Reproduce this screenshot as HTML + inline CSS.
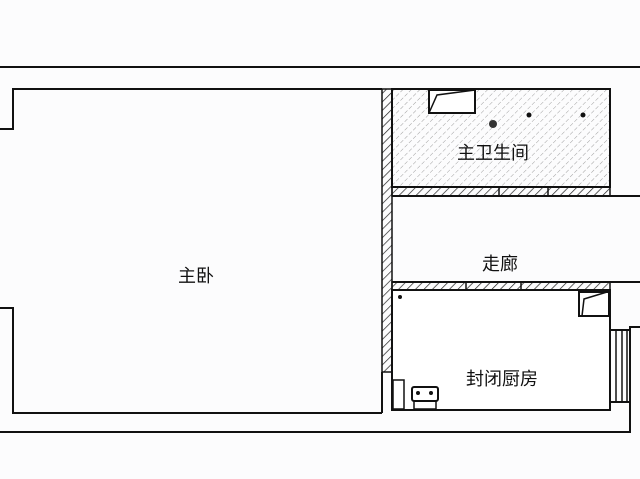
<!DOCTYPE html>
<html><head><meta charset="utf-8"><style>
html,body{margin:0;padding:0;background:#fcfcfd;}
svg{display:block}
text{font-family:"Liberation Sans","Noto Sans CJK SC",sans-serif;font-size:18px;fill:#111;text-anchor:middle}
</style></head><body>
<svg width="640" height="479" viewBox="0 0 640 479">
<defs>
<pattern id="h" width="6" height="6" patternUnits="userSpaceOnUse" patternTransform="rotate(45)">
<line x1="0" y1="0" x2="0" y2="6" stroke="#222" stroke-width="1.4"/></pattern>
<pattern id="hl" width="6" height="6" patternUnits="userSpaceOnUse" patternTransform="rotate(45)">
<line x1="0" y1="0" x2="0" y2="6" stroke="#777" stroke-width="0.7" stroke-dasharray="4 2"/></pattern>
</defs>
<g fill="none" stroke="#111" stroke-width="2">
<line x1="0" y1="67" x2="640" y2="67"/>
<polyline points="0,129 13,129 13,89 382,89"/>
<polyline points="0,308 13,308 13,413 382,413"/>
<polyline points="0,432 630,432 630,327 640,327"/>
</g>
<rect x="392" y="89" width="218" height="98" fill="url(#hl)" stroke="#111" stroke-width="2"/>
<rect x="382" y="89" width="10" height="283" fill="url(#h)" stroke="#111" stroke-width="1.5"/>
<rect x="392" y="187" width="218" height="9" fill="url(#h)" stroke="#111" stroke-width="1.5"/>
<rect x="392" y="282" width="218" height="8" fill="url(#h)" stroke="#111" stroke-width="1.5"/>
<line x1="499" y1="187" x2="499" y2="196" stroke="#111" stroke-width="1.5"/>
<line x1="548" y1="187" x2="548" y2="196" stroke="#111" stroke-width="1.5"/>
<line x1="466" y1="282" x2="466" y2="290" stroke="#111" stroke-width="1.5"/>
<line x1="521" y1="282" x2="521" y2="290" stroke="#111" stroke-width="1.5"/>
<g fill="none" stroke="#111" stroke-width="2">
<line x1="392" y1="196" x2="640" y2="196"/>
<line x1="392" y1="282" x2="640" y2="282"/>
<line x1="382" y1="372" x2="382" y2="413"/>
<rect x="392" y="290" width="218" height="120" fill="#fff"/>
<line x1="610" y1="330" x2="630" y2="330"/>
<line x1="610" y1="402" x2="630" y2="402"/>
<line x1="616" y1="330" x2="616" y2="402" stroke-width="1.5"/>
<line x1="622" y1="330" x2="622" y2="402" stroke-width="1.5"/>
<line x1="627" y1="330" x2="627" y2="402" stroke-width="1.5"/>
</g>
<polygon points="429,90 475,90 475,113 429,113" fill="#fff" stroke="#111" stroke-width="2"/>
<polyline points="429,113 437,95 475,90" fill="none" stroke="#111" stroke-width="1.5"/>
<circle cx="493" cy="124" r="4" fill="#333"/>
<circle cx="529" cy="115" r="2.5" fill="#111"/>
<circle cx="583" cy="115" r="2.5" fill="#111"/>
<rect x="579" y="292" width="30" height="24" fill="#fff" stroke="#111" stroke-width="2"/>
<polyline points="582,316 584,299 607,292" fill="none" stroke="#111" stroke-width="1.5"/>
<circle cx="400" cy="297" r="2" fill="#111"/>
<rect x="393" y="380" width="11" height="29" fill="none" stroke="#111" stroke-width="1.5"/>
<rect x="412" y="387" width="26" height="14" rx="2" fill="#fff" stroke="#111" stroke-width="2"/>
<circle cx="418" cy="393" r="2" fill="#111"/><circle cx="431" cy="393" r="2" fill="#111"/>
<rect x="414" y="401" width="22" height="8" fill="none" stroke="#111" stroke-width="1.5"/>
<text x="196" y="282">主卧</text>
<text x="493" y="159">主卫生间</text>
<text x="500" y="270">走廊</text>
<text x="502" y="385">封闭厨房</text>
</svg>
</body></html>
